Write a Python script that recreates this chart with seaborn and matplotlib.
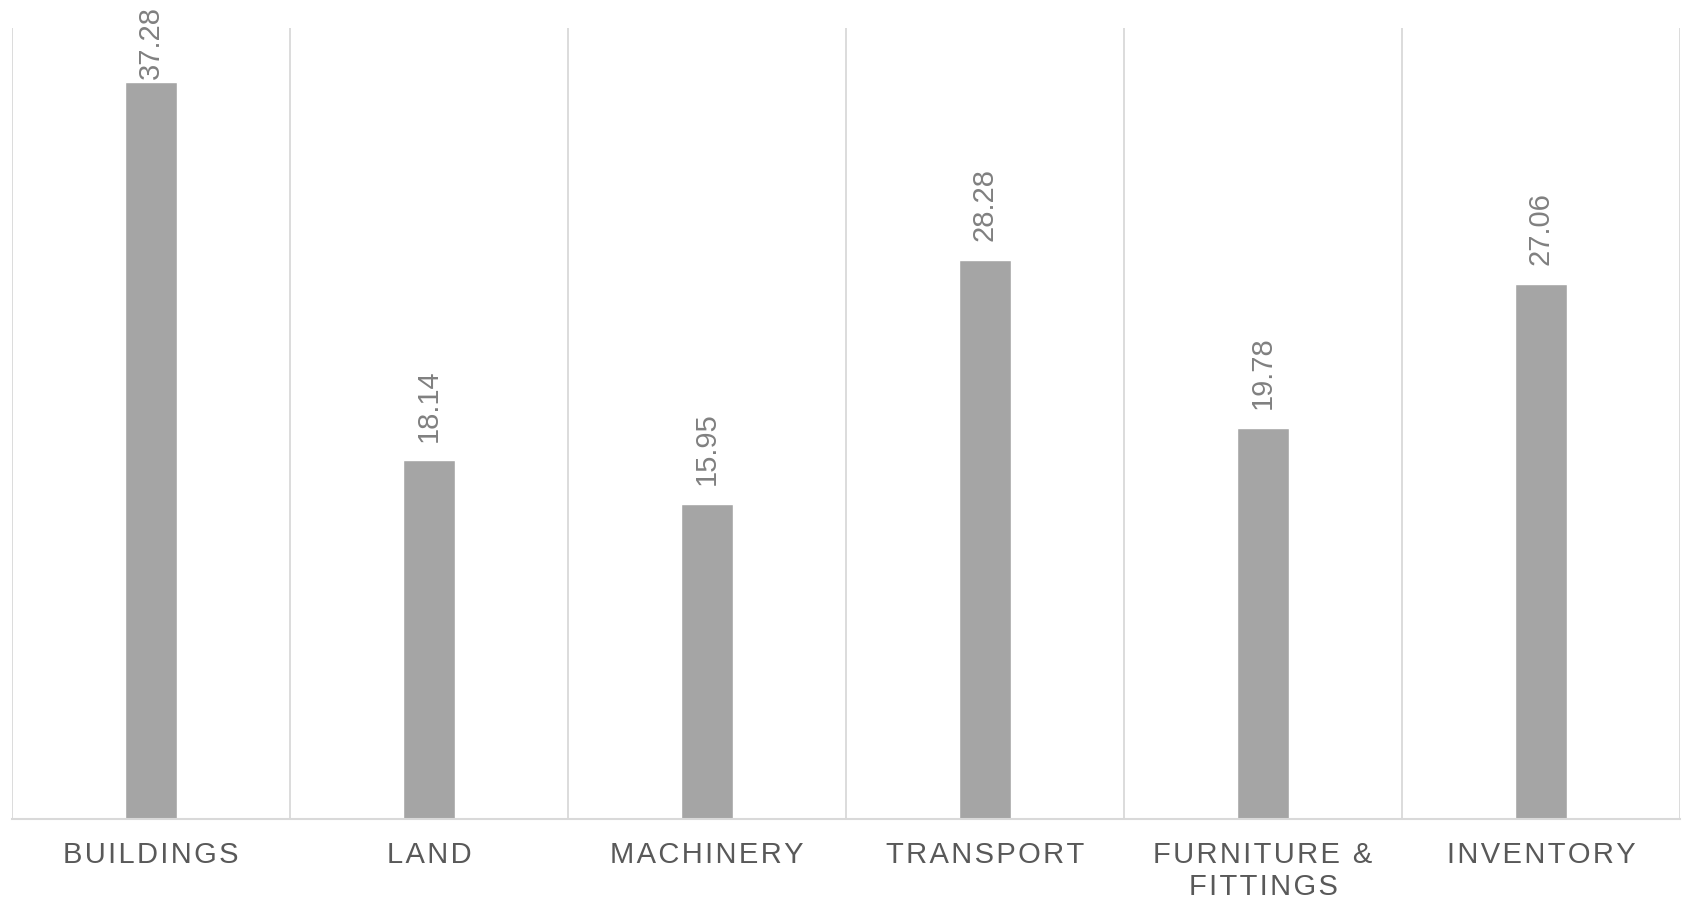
import matplotlib
matplotlib.use("Agg")
import matplotlib.pyplot as plt
import seaborn as sns
import pandas as pd

categories = ["BUILDINGS", "LAND", "MACHINERY", "TRANSPORT", "FURNITURE &\nFITTINGS", "INVENTORY"]
values = [37.28, 18.14, 15.95, 28.28, 19.78, 27.06]

sns.set_theme(style="white")
plt.rcParams["font.family"] = ["Liberation Sans", "DejaVu Sans"]

df = pd.DataFrame({"category": categories, "value": values})


def spaced(text, gap="\u200a"):
    """Widen the tracking of a label by putting hair spaces between letters."""
    return "\n".join(gap.join(line) for line in text.split("\n"))


fig = plt.figure(figsize=(16.83, 8.99), dpi=100)
ax = fig.add_axes([12 / 1683, 1 - 819 / 899, (1680 - 12) / 1683, (819 - 28) / 899])

sns.barplot(data=df, x="category", y="value", color="#a5a5a5", saturation=1,
            width=0.184, ax=ax)

ax.set_ylim(0, 40)
ax.set_xlim(-0.5, len(categories) - 0.5)

grid_color = "#d9d9d9"
for b in range(len(categories) + 1):
    ax.axvline(b - 0.5, color=grid_color, lw=1.3, zorder=0)

for side in ["top", "right", "left"]:
    ax.spines[side].set_visible(False)
ax.spines["bottom"].set_color(grid_color)
ax.spines["bottom"].set_linewidth(1.5)

ax.set_yticks([])
ax.set_xlabel("")
ax.set_ylabel("")
ax.tick_params(axis="x", length=0, pad=16)
ax.set_xticks(range(len(categories)))
ax.set_xticklabels([spaced(c) for c in categories], fontsize=21,
                   color="#595959", linespacing=1.15)

pad_pt = 13.5
labels = []
for container in ax.containers:
    labels += ax.bar_label(container, labels=[f"{v:.2f}" for v in values],
                           rotation=90, padding=pad_pt, fontsize=21,
                           color="#808080")

# Pull any value label that would run off the top edge back inside the figure
fig.canvas.draw()
renderer = fig.canvas.get_renderer()
fig_h = fig.bbox.height
margin_px = 6
for t in labels:
    ext = t.get_window_extent(renderer)
    overflow = ext.y1 - (fig_h - margin_px)
    if overflow > 0:
        new_pad = max(pad_pt - overflow * 72 / fig.dpi, 1)
        t.xyann = (0, new_pad)

fig.savefig("out.png", dpi=100, facecolor="white")
